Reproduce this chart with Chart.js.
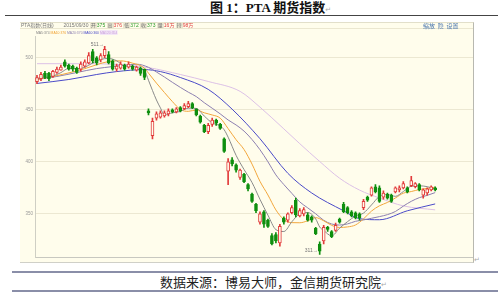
<!DOCTYPE html>
<html>
<head>
<meta charset="utf-8">
<title>PTA 期货指数</title>
<script src="https://cdn.jsdelivr.net/npm/chart.js@4.4.1/dist/chart.umd.min.js"></script>
<style>
  body { margin: 0; width: 499px; height: 298px; background: #fff; position: relative; overflow: hidden; font-family: "Noto Sans CJK SC", sans-serif; }
  .abs { position: absolute; white-space: nowrap; }
  #title { left: 210px; top: 0; font: bold 13px/15px "Liberation Serif", "Noto Sans CJK SC", serif; color: #111; }
  .mark { font: normal 7px "DejaVu Sans", sans-serif; color: #aaa; }
  #rule1 { left: 5px; top: 15px; width: 493px; height: 1px; background: #444; }
  #panel { left: 20px; top: 22px; width: 453px; height: 239px; background: #fffdec; border-top: 1px solid #e2dfca; border-right: 1px solid #b8b8b0; border-bottom: 1px solid #d0d0c8; }
  #sep { left: 20px; top: 28px; width: 453px; height: 1px; background: #ebe7d0; }
  #hd1 { left: 21px; top: 22px; font: 5px/6px Arial, "Noto Sans CJK SC", sans-serif; color: #777; }
  #hd1 .bx { background: #e9e5cf; color: #777; padding: 0 1px; }
  #hd1 .gr { color: #2a9a2a; }
  #hd1 .rd { color: #e04040; }
  #hd2 { left: 36px; top: 30px; font: 4px/5px Arial, sans-serif; color: #777; transform: scaleX(0.85); transform-origin: left top; }
  #tools { left: 423px; top: 22px; font: 6px/7px "Noto Sans CJK SC", sans-serif; color: #4a76b0; }
  #kline { position: absolute; left: 20px; top: 22px; }
  .rule2 { left: 12px; width: 486px; height: 2px; background: #8a8ea8; }
  #caption { left: 160px; top: 273px; font: 13px/18px "Noto Sans CJK SC", sans-serif; color: #222; }
</style>
</head>
<body>
<div id="title" class="abs">图 1：PTA 期货指数<span class="mark">↵</span></div>
<div id="rule1" class="abs"></div>
<div id="panel" class="abs"></div>
<div id="sep" class="abs"></div>
<canvas id="kline" width="453" height="240"></canvas>
<div id="hd1" class="abs">PTA指数(日线)&nbsp;&nbsp;&nbsp;&nbsp;&nbsp;&nbsp;&nbsp;2015/09/30 <span class="bx">开</span><span class="gr">375</span> <span class="bx">高</span><span class="rd">376</span> <span class="bx">低</span><span class="gr">372</span> <span class="bx">收</span><span class="gr">373</span> <span class="bx">量</span><span class="rd">16万</span> <span class="bx">持</span><span class="rd">98万</span></div>
<div id="hd2" class="abs"><span style="color:#808080">MA5:374</span> <span style="color:#f0a030">MA10:376</span> <span style="color:#8a7db0">MA20:370</span> <span style="color:#4848c8">MA60:360</span> <span style="color:#c9a0dc;background:#f3e6f6">MA120:354</span></div>
<div id="tools" class="abs">缩放&nbsp;&nbsp;隐&nbsp;&nbsp;设置</div>
<div class="abs mark" style="left:474px;top:256px">↵</div>
<div class="abs rule2" style="top:271px"></div>
<div id="caption" class="abs">数据来源：博易大师，金信期货研究院<span class="mark">↵</span></div>
<div class="abs rule2" style="top:290px"></div>
<script>
// 日K线 (101 根)
var open = [477,480,485,485,482,486,488,496,493,492,
  490,489,492,495,506,500,498,502,503,497,
  489,490,493,491,492,488,490,489,449,425,
  442,443,444,446,450,448,452,451,453,456,
  451,444,435,429,436,440,436,422,391,402,
  397,385,388,378,369,359,342,352,344,329,
  330,322,346,344,351,363,348,350,349,347,
  336,321,324,337,333,334,345,359,356,352,
  351,350,356,366,368,376,375,366,369,368,
  371,373,375,375,377,376,378,368,370,373,375];
var close = [481,484,481,480,487,489,491,492,489,489,
  486,494,496,502,497,495,502,508,495,489,
  492,494,489,494,489,491,485,481,447,439,
  446,447,447,449,448,451,449,454,456,452,
  445,438,429,435,440,437,432,410,400,398,
  392,392,381,374,362,353,350,340,338,321,
  324,338,342,350,356,349,353,354,344,344,
  331,314,337,335,328,339,342,352,351,348,
  346,346,362,363,375,371,362,370,365,362,
  375,375,379,371,382,379,373,373,374,376,373];
var high = [483,486,487,486,488,491,493,498,494,493,
  491,496,498,505,508,501,504,511,506,498,
  494,496,494,496,493,492,491,489,451,442,
  448,449,449,451,451,452,453,456,458,457,
  451,445,436,437,442,441,437,423,403,404,
  398,393,389,379,370,360,352,353,345,331,
  332,340,347,351,358,365,355,356,351,348,
  337,323,339,338,334,341,346,361,357,353,
  352,351,364,367,376,378,377,372,370,369,
  376,377,381,376,386,380,379,374,375,377,376];
var low = [475,478,480,478,481,485,488,491,488,487,
  485,487,491,494,495,493,496,500,494,488,
  487,489,488,490,488,487,483,479,445,422,
  440,442,443,444,447,447,448,450,452,451,
  444,437,428,427,434,435,431,409,378,396,
  390,383,380,372,361,351,340,337,337,320,
  322,319,340,342,350,347,347,348,343,342,
  330,311,321,333,327,333,341,351,350,347,
  345,344,354,362,367,370,361,364,364,361,
  370,371,374,370,376,375,372,365,368,372,372];

// 均线 [K线序号, 数值]
var ma5 = [[0,480.0],[2,480.9],[4,482.4],[6,485.7],[8,489.8],[10,489.4],[12,490.8],[14,495.0],[16,498.4],[18,499.3],
  [20,497.1],[22,491.9],[24,491.7],[26,489.6],[27,487.9],[28,478.4],[29,468.6],[30,459.4],[31,451.8],[32,445.0],
  [34,447.1],[36,448.4],[38,451.5],[40,451.3],[42,444.0],[44,437.4],[46,434.5],[47,430.8],[48,423.7],[50,406.2],
  [52,392.6],[54,380.1],[56,363.9],[58,348.7],[60,334.8],[62,333.0],[64,342.3],[66,350.1],[68,351.2],[70,345.1],
  [71,337.3],[72,334.0],[74,328.8],[76,336.2],[78,342.5],[80,347.8],[82,350.7],[84,358.5],[86,366.7],[88,368.6],
  [90,366.8],[92,371.4],[94,376.5],[96,376.9],[98,376.1],[100,373.7]];
var ma10 = [[0,479.1],[4,482.0],[9,486.4],[12,489.5],[15,493.3],[18,496.4],[21,497.0],[24,494.8],[27,490.0],[28,485.2],
  [30,475.6],[32,466.6],[34,457.9],[36,450.3],[38,448.5],[40,449.8],[42,447.1],[44,445.0],[46,442.0],[48,431.9],
  [50,421.2],[52,411.8],[54,397.8],[56,381.2],[58,368.1],[60,353.7],[62,344.5],[64,341.5],[66,341.4],[68,343.3],
  [70,346.3],[72,343.3],[74,338.9],[76,336.9],[78,337.4],[80,339.3],[82,345.1],[84,352.6],[86,357.7],[88,360.9],
  [90,365.2],[92,369.8],[94,371.4],[96,373.3],[98,374.4],[100,375.6]];
var ma20 = [[0,479.1],[5,482.0],[10,485.8],[15,489.6],[19,491.5],[22,492.9],[25,493.8],[28,490.8],[30,486.3],[32,481.5],
  [34,476.4],[36,471.5],[38,466.9],[40,462.7],[42,456.8],[44,451.5],[46,446.1],[48,440.2],[50,435.4],[52,429.5],
  [54,421.4],[56,411.6],[58,400.0],[60,387.4],[62,378.1],[64,369.7],[66,361.4],[68,355.7],[70,350.0],[72,343.8],
  [74,340.2],[76,339.2],[78,340.3],[80,342.8],[82,344.1],[84,345.7],[86,347.3],[88,349.2],[90,352.2],[92,357.4],
  [94,362.0],[96,365.5],[98,367.7],[100,370.4]];
var ma60 = [[0,475.3],[8,479.1],[15,483.9],[20,486.7],[27,488.6],[31,486.7],[36,481.0],[43,469.6],[49,450.6],[56,422.2],
  [63,388.9],[69,370.0],[77,352.9],[81,345.3],[86,344.3],[93,352.9],[100,359.5]];
var ma120 = [[0,494.3],[11,494.3],[21,493.4],[28,490.5],[36,483.9],[43,477.2],[51,467.7],[56,452.5],[62,431.6],[66,417.4],
  [71,400.3],[76,384.2],[81,372.8],[86,365.2],[92,357.6],[100,353.8]];

var yTicks = [350, 400, 450, 500];
var slots = 110; // 右侧留白
var labels = [];
for (var i = 0; i < slots; i++) labels.push(String(i));

var RED = '#e23b3b', GREEN = '#0f8f0f', BG = '#fffdec';
var isUp = open.map(function (o, i) { return close[i] >= o; });

function maLine(pts, color) {
  return {
    type: 'line',
    data: pts.map(function (p) { return { x: String(p[0]), y: p[1] }; }),
    borderColor: color,
    borderWidth: 1,
    pointRadius: 0,
    tension: 0.4,
    cubicInterpolationMode: 'monotone',
    order: 2
  };
}

// 最高/最低价标注
var markHiLo = {
  id: 'markHiLo',
  afterDatasetsDraw: function (chart) {
    var ctx = chart.ctx, x = chart.scales.x, y = chart.scales.y;
    var hi = Math.max.apply(null, high), lo = Math.min.apply(null, low);
    var ih = high.indexOf(hi), il = low.indexOf(lo);
    ctx.save();
    ctx.font = '5px Arial';
    ctx.fillStyle = '#777';
    ctx.textAlign = 'right';
    ctx.textBaseline = 'bottom';
    ctx.fillText(hi + '→', x.getPixelForValue(ih) - 1, y.getPixelForValue(hi) + 1);
    ctx.fillText(lo + '→', x.getPixelForValue(il) - 2, y.getPixelForValue(lo) - 1);
    ctx.restore();
  }
};

new Chart(document.getElementById('kline'), {
  type: 'bar',
  data: {
    labels: labels,
    datasets: [
      {
        type: 'bar',
        data: low.map(function (l, i) { return [l, high[i]]; }),
        backgroundColor: isUp.map(function (u) { return u ? RED : GREEN; }),
        barThickness: 1,
        grouped: false,
        order: 1
      },
      {
        type: 'bar',
        data: open.map(function (o, i) { return [o, close[i]]; }),
        backgroundColor: isUp.map(function (u) { return u ? BG : GREEN; }),
        borderColor: isUp.map(function (u) { return u ? RED : GREEN; }),
        borderWidth: 1,
        borderSkipped: false,
        barThickness: 3,
        minBarLength: 1,
        grouped: false,
        order: 0
      },
      maLine(ma5, '#8a8a8a'),
      maLine(ma10, '#f2a63c'),
      maLine(ma20, '#8c7fb0'),
      maLine(ma60, '#4a4ac8'),
      maLine(ma120, '#dcc0e6')
    ]
  },
  options: {
    responsive: false,
    animation: false,
    devicePixelRatio: 1,
    layout: { padding: { top: 14, right: 0, bottom: 2, left: 0 } },
    plugins: {
      legend: { display: false },
      tooltip: { enabled: false }
    },
    scales: {
      x: {
        offset: true,
        ticks: { display: false },
        grid: { display: false },
        border: { color: '#c8c8c0' },
        afterFit: function (s) { s.height = 0; }
      },
      y: {
        min: 308.2,
        max: 520.9,
        afterBuildTicks: function (s) { s.ticks = yTicks.map(function (v) { return { value: v }; }); },
        afterFit: function (s) { s.width = 15; },
        ticks: { font: { size: 4.5, family: 'Arial' }, color: '#999', padding: 2 },
        grid: { color: '#ece8d2', drawTicks: false },
        border: { color: '#cfcfc4' }
      }
    }
  },
  plugins: [markHiLo]
});
</script>
</body>
</html>
